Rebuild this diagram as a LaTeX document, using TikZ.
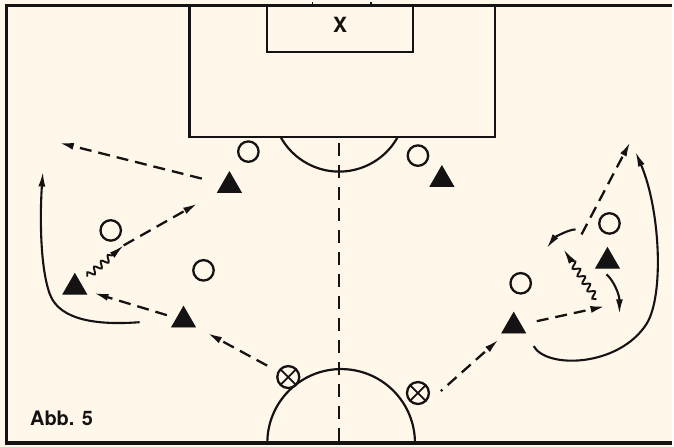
\documentclass[tikz,border=0pt]{standalone}
\usepackage{fontspec}
\newfontfamily\heros{TeX Gyre Heros}
\usetikzlibrary{arrows.meta,shapes.geometric,decorations.pathmorphing}
\definecolor{paper}{RGB}{254,247,234}
\definecolor{ink}{RGB}{20,18,18}

\begin{document}
\begin{tikzpicture}[x=1pt,y=-1pt,>={Latex[length=15pt,width=7pt]},
 tri/.style={regular polygon,regular polygon sides=3,fill=ink,draw=ink,line width=0.8pt,inner sep=0pt,minimum size=27.5pt},
 opp/.style={circle,draw=ink,line width=2.3pt,inner sep=0pt,minimum size=20.5pt},
 cx/.style={circle,draw=ink,line width=2.3pt,inner sep=0pt,minimum size=22pt,
  path picture={\draw[ink,line width=1.8pt] (path picture bounding box.north west)--(path picture bounding box.south east)
   (path picture bounding box.north east)--(path picture bounding box.south west);}},
 pa/.style={->,ink,line width=2.3pt,dash pattern=on 12pt off 7pt},
 ru/.style={->,ink,line width=2.1pt},
 dri/.style={->,ink,line width=1.9pt,decorate,decoration={snake,amplitude=3.2pt,segment length=9pt,post length=12pt}},
 ln/.style={ink,line width=2.2pt}]
% paper and frame
\fill[paper] (0,0) rectangle (674,448);
\draw[ink,line width=2.8pt] (674,5.5) -- (6.5,5.5) -- (6.5,444);
\draw[ink,line width=3.4pt] (5.1,444) -- (674,444);
\draw[ink,line width=1.4pt] (313,2.5) -- (313,5.5) (372,2.5) -- (372,5.5);
% pitch
\draw[ln] (190,5.5) -- (190,137) -- (496,137) -- (496,5.5);
\draw[ln] (268,5.5) -- (268,52) -- (414,52) -- (414,5.5);
\draw[ln] (398.9,137) arc[start angle=28.5,end angle=151.5,radius=67];
\draw[ln] (268,444) arc[start angle=180,end angle=360,radius=74];
\draw[ln,dash pattern=on 13pt off 9pt] (340,143) -- (340,444);
\node[font=\heros\bfseries\fontsize{21}{24}\selectfont,text=ink,anchor=base,inner sep=0pt] (goal) at (341,33) {X};
\node[font=\heros\bfseries\fontsize{20}{24}\selectfont,text=ink,anchor=base west,inner sep=0pt] (abb) at (30,427) {Abb. 5};

% players
\node[tri] (t1) at (230,186) {};
\node[tri] (t2) at (443,180) {};
\node[tri] (t3) at (75,288) {};
\node[tri] (t4) at (184,321) {};
\node[tri] (t5) at (515,327) {};
\node[tri] (t6) at (609,262) {};
\node[opp] (o1) at (249,152) {};
\node[opp] (o2) at (419,156) {};
\node[opp] (o3) at (111,231) {};
\node[opp] (o4) at (204,271) {};
\node[opp] (o5) at (522,284) {};
\node[opp] (o6) at (611,224) {};
\node[cx] (x1) at (289,378) {};
\node[cx] (x2) at (419,394) {};

% free ends
\coordinate (a1) at (59,143);
\coordinate (w1) at (124,246);
\coordinate (r1s) at (140,323);
\coordinate (r1e) at (43,172);
\coordinate (b1) at (442,392);
\coordinate (b2) at (607,307);
\coordinate (r2s) at (535,347);
\coordinate (r2e) at (637,152);
\coordinate (b4s) at (583,235);
\coordinate (b4e) at (632,142);
\coordinate (b5s) at (577,230);
\coordinate (b5e) at (548,249);
\coordinate (w2s) at (598,300);
\coordinate (w2e) at (565,250);
\coordinate (b7s) at (608,275);
\coordinate (b7e) at (621,315);

% left group
\draw[pa,shorten <=12pt,shorten >=13pt] (x1) -- (t4);
\draw[pa,shorten <=10pt,shorten >=9pt] (t4) -- (t3);
\draw[dri,decoration={pre=moveto,pre length=9pt}] (t3) -- (w1);
\draw[pa,shorten >=22pt] (w1) -- (t1);
\draw[pa,shorten <=21pt] (t1) -- (a1);
\draw[ru] (r1s) .. controls (100,326) and (60,322) .. (50,295) .. controls (40,268) and (40,215) .. (r1e);

% right group
\draw[pa,dash phase=10pt,shorten >=9pt] (b1) -- (t5);
\draw[pa,shorten <=16pt] (t5) -- (b2);
\draw[ru] (r2s) .. controls (548,370) and (620,368) .. (648,325) .. controls (666,297) and (662,210) .. (r2e);
\draw[pa] (b4s) -- (b4e);
\draw[ru] (b5s) .. controls (570,230) and (556,238) .. (b5e);
\draw[dri] (w2s) -- (w2e);
\draw[ru] (b7s) .. controls (615,281) and (621,295) .. (b7e);
\end{tikzpicture}
\end{document}
